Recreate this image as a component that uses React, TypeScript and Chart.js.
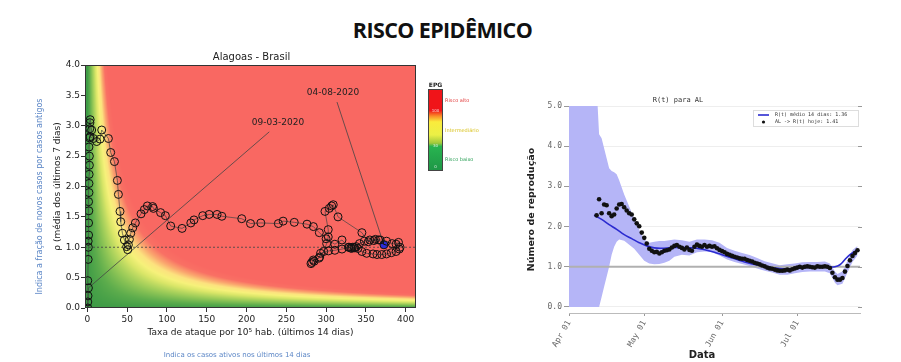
import React, { useEffect, useRef } from "react";
import { Chart, registerables } from "chart.js";
Chart.register(...registerables);

// ---------------- Left chart data (risk diagram) ----------------
const attackRate = [
  1.3, 0.5, 0.5, 0.8, 0.5, 1.0, 1.2, 1.0, 1.5, 1.5, 1.8, 1.5, 2.0, 2.0, 2.2, 2.5, 2.5, 2.0, 2.8, 3.0, 3.5, 3.2,
  5.4, 3.4, 7.5, 11.7, 15.9, 18, 26.4, 29.3, 34, 37.7, 39, 41, 41.9, 44, 46.5, 49.4, 50.7, 51.5, 52.8, 54.5,
  57, 60.3, 67.4, 71.6, 75.4, 82, 83, 92, 98, 104.7, 119, 130, 134, 145, 153, 163, 169, 194, 205, 218, 240,
  246, 260, 276, 284, 291.5, 300, 311, 320, 328, 331, 333, 335, 338, 342, 348, 355, 362, 368, 376, 383, 388,
  391, 393, 392, 388, 382, 376, 370, 364, 359, 351, 345, 340, 336, 332, 329, 320, 311, 303, 293, 291, 284,
  282, 281, 285, 292, 297, 300.7, 302.7, 302.7, 298.6, 304, 307, 309, 315, 345, 353, 360, 366, 372.7,
];
const rho = [
  0.33, 0.0, 0.1, 0.2, 0.45, 0.8, 1.0, 1.1, 1.2, 1.4, 1.6, 1.75, 1.9, 2.05, 2.2, 2.35, 2.5, 2.65, 2.8, 2.95, 3.1, 3.05,
  2.93, 2.82, 2.79, 2.74, 2.78, 2.93, 2.79, 2.56, 2.41, 2.1, 1.87, 1.59, 1.42, 1.23, 1.12, 1.01, 0.96, 1.04, 1.13, 1.23,
  1.32, 1.4, 1.55, 1.62, 1.68, 1.67, 1.64, 1.57, 1.52, 1.35, 1.31, 1.4, 1.45, 1.52, 1.54, 1.54, 1.51, 1.47, 1.39, 1.4, 1.39,
  1.43, 1.41, 1.38, 1.34, 1.24, 1.14, 1.05, 1.12, 1.0, 0.99, 1.0, 1.0, 1.01, 1.06, 1.1, 1.12, 1.13, 1.12, 1.1, 1.06, 1.05,
  1.08, 1.0, 0.97, 0.93, 0.91, 0.89, 0.88, 0.88, 0.89, 0.9, 0.93, 0.98, 0.99, 0.98, 1.0, 0.97, 0.95, 0.94, 0.9, 0.82, 0.79,
  0.75, 0.73, 0.77, 0.84, 0.93, 1.06, 1.17, 1.29, 1.59, 1.64, 1.68, 1.7, 1.5, 1.24, 1.09, 1.11, 1.12, 1.04,
];
const leftXTicks = [0, 50, 100, 150, 200, 250, 300, 350, 400];
const leftYTicks = [0, 0.5, 1, 1.5, 2, 2.5, 3, 3.5, 4];
const firstDateLabel = "09-03-2020";
const lastDateLabel = "04-08-2020";
const epgLevelLabels = ["Risco alto", "Intermediário", "Risco baixo"];
const epgBarValues = ["100", "30", "0"];

// ---------------- Right chart data (R(t)) ----------------
const rDailyStartDay = 11; // days counted from Apr 01
const rDaily = [
  2.28, 2.68, 2.33, 2.55, 2.53, 2.33, 2.26, 2.3, 2.45, 2.55,
  2.56, 2.48, 2.4, 2.33, 2.3, 2.18, 2.08, 2.01, 1.85, 1.72,
  1.58, 1.45, 1.4, 1.36, 1.37, 1.33, 1.36, 1.4, 1.41, 1.43,
  1.48, 1.52, 1.54, 1.5, 1.47, 1.43, 1.48, 1.42, 1.4, 1.5,
  1.55, 1.52, 1.5, 1.54, 1.5, 1.52, 1.5, 1.51, 1.46, 1.42,
  1.39, 1.36, 1.32, 1.3, 1.27, 1.25, 1.23, 1.21, 1.2, 1.2,
  1.17, 1.15, 1.13, 1.1, 1.08, 1.06, 1.03, 1.01, 0.98, 0.96,
  0.95, 0.93, 0.91, 0.9, 0.9, 0.91, 0.93, 0.91, 0.94, 0.96,
  0.98, 1.0, 0.98, 1.0, 1.01, 1.0, 0.99, 0.98, 1.01, 1.0,
  1.0, 1.01, 1.0, 0.97, 0.85, 0.74, 0.68, 0.68, 0.72, 0.88,
  1.02, 1.16, 1.27, 1.34, 1.41,
];
const rMeanDays = [10, 13, 16, 19, 22, 25, 28, 31, 34, 37, 40, 43, 46, 49, 52, 55, 58, 61, 64, 67, 70, 73, 76, 79, 82, 85, 88, 91, 94, 97, 100, 103, 106, 108, 110, 112, 114, 115];
const rMean = [2.28, 2.18, 2.05, 1.93, 1.8, 1.7, 1.6, 1.52, 1.47, 1.46, 1.47, 1.48, 1.48, 1.47, 1.45, 1.41, 1.36, 1.3, 1.24, 1.18, 1.12, 1.07, 1.03, 1.0, 0.97, 0.95, 0.95, 0.96, 0.98, 0.99, 1.0, 1.0, 1.0, 1.05, 1.18, 1.3, 1.38, 1.41];
const bandDays = [0, 11, 12, 13, 14, 15, 16, 17, 18, 19, 20, 22, 24, 26, 28, 30, 32, 34, 36, 38, 40, 42, 45, 48, 51, 54, 57, 60, 63, 66, 69, 72, 75, 78, 81, 84, 87, 90, 93, 96, 99, 102, 104, 106, 107, 109, 111, 113, 115];
const bandUpper = [5.5, 5.5, 4.3, 4.2, 3.95, 3.7, 3.45, 3.38, 3.35, 3.3, 3.15, 2.8, 2.5, 2.2, 1.92, 1.68, 1.6, 1.62, 1.64, 1.64, 1.66, 1.68, 1.66, 1.62, 1.68, 1.68, 1.66, 1.6, 1.47, 1.4, 1.34, 1.29, 1.22, 1.14, 1.09, 1.04, 1.06, 1.08, 1.11, 1.12, 1.12, 1.13, 1.08, 0.88, 0.82, 0.88, 1.15, 1.42, 1.52];
const bandLower = [0, 0, 0, 0.25, 0.5, 0.75, 1.0, 1.3, 1.5, 1.62, 1.68, 1.65, 1.55, 1.45, 1.3, 1.15, 1.08, 1.06, 1.07, 1.1, 1.15, 1.25, 1.3, 1.28, 1.36, 1.38, 1.36, 1.28, 1.18, 1.12, 1.07, 1.02, 0.96, 0.9, 0.86, 0.8, 0.8, 0.84, 0.87, 0.88, 0.88, 0.88, 0.84, 0.6, 0.54, 0.58, 0.86, 1.12, 1.28];
const rightXTickDays = [0, 30, 61, 91];
const rightXTickLabels = ["Apr 01", "May 01", "Jun 01", "Jul 01"];
const rightYTicks = [0, 1, 2, 3, 4, 5];
const meanLabel = "R(t) médio 14 dias: 1.36";
const dailyLabel = "AL -> R(t) hoje: 1.41";

// ---------------- helpers ----------------
const EPG_STOPS: [number, number[]][] = [
  [0, [62, 155, 70]],
  [10, [92, 172, 76]],
  [25, [155, 203, 88]],
  [40, [218, 230, 104]],
  [50, [246, 241, 122]],
  [60, [252, 226, 126]],
  [72, [250, 165, 110]],
  [85, [249, 112, 100]],
  [100, [249, 104, 98]],
];
function epgColor(v: number): number[] {
  if (v <= EPG_STOPS[0][0]) return EPG_STOPS[0][1];
  for (let i = 1; i < EPG_STOPS.length; i++) {
    const [b, cb] = EPG_STOPS[i];
    const [a, ca] = EPG_STOPS[i - 1];
    if (v <= b) {
      const t = (v - a) / (b - a);
      return [ca[0] + (cb[0] - ca[0]) * t, ca[1] + (cb[1] - ca[1]) * t, ca[2] + (cb[2] - ca[2]) * t];
    }
  }
  return EPG_STOPS[EPG_STOPS.length - 1][1];
}

const SANS = "'DejaVu Sans', sans-serif";
const MONO = "'DejaVu Sans Mono', monospace";
const BLUE_TXT = "#5b86c6";

const leftPlugin = {
  id: "leftDecor",
  beforeDatasetsDraw(chart: any) {
    const { ctx, chartArea: ca, scales } = chart;
    const xs = scales.x, ys = scales.y;
    const L = Math.round(ca.left), T = Math.round(ca.top);
    const W = Math.round(ca.right) - L, H = Math.round(ca.bottom) - T;
    const img = ctx.createImageData(W, H);
    for (let j = 0; j < H; j++) {
      const yv = Math.max(0, ys.getValueForPixel(T + j + 0.5));
      for (let i = 0; i < W; i++) {
        const xv = Math.max(0, xs.getValueForPixel(L + i + 0.5));
        const c = epgColor(xv * yv);
        const k = (j * W + i) * 4;
        img.data[k] = c[0];
        img.data[k + 1] = c[1];
        img.data[k + 2] = c[2];
        img.data[k + 3] = 255;
      }
    }
    ctx.putImageData(img, L, T);
    ctx.save();
    const py = ys.getPixelForValue(1);
    ctx.strokeStyle = "rgba(70,70,70,0.85)";
    ctx.lineWidth = 1;
    ctx.setLineDash([2, 2]);
    ctx.beginPath();
    ctx.moveTo(L, py);
    ctx.lineTo(L + W, py);
    ctx.stroke();
    ctx.setLineDash([]);
    const n = attackRate.length;
    const lines = [
      [228.6, 2.9, attackRate[0], rho[0]],
      [313.7, 3.39, attackRate[n - 1], rho[n - 1]],
    ];
    ctx.strokeStyle = "#444";
    ctx.lineWidth = 0.8;
    for (const [x0, y0, x1, y1] of lines) {
      ctx.beginPath();
      ctx.moveTo(xs.getPixelForValue(x0), ys.getPixelForValue(y0));
      ctx.lineTo(xs.getPixelForValue(x1), ys.getPixelForValue(y1));
      ctx.stroke();
    }
    ctx.restore();
  },
  afterDraw(chart: any) {
    const { ctx, chartArea: ca, scales } = chart;
    const xs = scales.x, ys = scales.y;
    ctx.save();
    ctx.strokeStyle = "#333";
    ctx.lineWidth = 1;
    ctx.strokeRect(Math.round(ca.left) + 0.5, Math.round(ca.top) + 0.5, Math.round(ca.right - ca.left) - 1, Math.round(ca.bottom - ca.top) - 1);
    ctx.fillStyle = "#222";
    ctx.font = `9px ${SANS}`;
    ctx.textAlign = "center";
    ctx.textBaseline = "middle";
    ctx.fillText(firstDateLabel, xs.getPixelForValue(239.5), ys.getPixelForValue(3.05));
    ctx.fillText(lastDateLabel, xs.getPixelForValue(308.7), ys.getPixelForValue(3.54));
    ctx.font = `10px ${SANS}`;
    ctx.fillText("Alagoas - Brasil", (ca.left + ca.right) / 2 + 1, ca.top - 8);
    ctx.font = `9px ${SANS}`;
    ctx.fillText("Taxa de ataque por 10\u2075 hab. (últimos 14 dias)", (ca.left + ca.right) / 2, ca.bottom + 25);
    ctx.save();
    ctx.translate(ca.left - 27, (ca.top + ca.bottom) / 2);
    ctx.rotate(-Math.PI / 2);
    ctx.fillText("\u03c1 (média dos últimos 7 dias)", 0, 0);
    ctx.restore();
    ctx.fillStyle = BLUE_TXT;
    ctx.font = `8px ${SANS}`;
    ctx.save();
    ctx.translate(ca.left - 45, (ca.top + ca.bottom) / 2 + 10);
    ctx.rotate(-Math.PI / 2);
    ctx.fillText("Indica a fração de novos casos por casos antigos", 0, 0);
    ctx.restore();
    ctx.font = `7px ${SANS}`;
    ctx.fillText("Indica os casos ativos nos últimos 14 dias", 237, ca.bottom + 47);
    // colour bar
    const bx = ca.right + 12, bw = 15, by = ca.top + 24, bh = 82;
    const g = ctx.createLinearGradient(0, by, 0, by + bh);
    g.addColorStop(0, "rgb(240,20,25)");
    g.addColorStop(0.26, "rgb(240,20,25)");
    g.addColorStop(0.33, "rgb(250,140,40)");
    g.addColorStop(0.4, "rgb(250,235,60)");
    g.addColorStop(0.56, "rgb(235,240,70)");
    g.addColorStop(0.66, "rgb(160,200,60)");
    g.addColorStop(0.7, "rgb(40,180,80)");
    g.addColorStop(1, "rgb(30,150,70)");
    ctx.fillStyle = g;
    ctx.fillRect(bx, by, bw, bh);
    ctx.strokeStyle = "#444";
    ctx.strokeRect(bx + 0.5, by + 0.5, bw - 1, bh - 1);
    ctx.fillStyle = "#222";
    ctx.font = `bold 6px ${SANS}`;
    ctx.fillText("EPG", bx + bw / 2, by - 4);
    ctx.font = `4px ${SANS}`;
    ctx.fillStyle = "rgba(255,255,255,0.8)";
    ctx.fillText(epgBarValues[0], bx + bw / 2, by + 22);
    ctx.fillText(epgBarValues[1], bx + bw / 2, by + 57);
    ctx.fillText(epgBarValues[2], bx + bw / 2, by + 78);
    ctx.textAlign = "left";
    ctx.font = `5px ${SANS}`;
    const labCol = ["#e23a3a", "#d9c21e", "#2fa25a"];
    const labY = [12, 42, 71];
    epgLevelLabels.forEach((t, i) => {
      ctx.fillStyle = labCol[i];
      ctx.fillText(t, bx + bw + 2, by + labY[i]);
    });
    ctx.restore();
  },
};

const rightPlugin = {
  id: "rightDecor",
  afterDraw(chart: any) {
    const { ctx, chartArea: ca, scales } = chart;
    const ys = scales.y;
    ctx.save();
    ctx.textAlign = "center";
    ctx.textBaseline = "middle";
    ctx.fillStyle = "#333";
    ctx.font = `7px ${MONO}`;
    ctx.fillText("R(t) para AL", ca.left + 109, ca.top - 6);
    ctx.strokeStyle = "#999";
    ctx.lineWidth = 1;
    for (const v of rightYTicks) {
      const p = Math.round(ys.getPixelForValue(v)) + 0.5;
      ctx.beginPath();
      ctx.moveTo(ca.right - 2, p);
      ctx.lineTo(ca.right + 2, p);
      ctx.stroke();
    }
    ctx.fillStyle = "#222";
    ctx.font = `bold 10px ${SANS}`;
    ctx.fillText("Data", ca.left + 133, ca.bottom + 42);
    ctx.save();
    ctx.translate(ca.left - 37, (ca.top + ca.bottom) / 2);
    ctx.rotate(-Math.PI / 2);
    ctx.font = `bold 9.5px ${SANS}`;
    ctx.fillText("Número de reprodução", 0, 0);
    ctx.restore();
    // legend
    const lw = 106, lh = 17;
    const lx = ca.right - lw - 1, ly = ca.top + 4;
    ctx.fillStyle = "rgba(255,255,255,0.9)";
    ctx.fillRect(lx, ly, lw, lh);
    ctx.strokeStyle = "#ddd";
    ctx.strokeRect(lx + 0.5, ly + 0.5, lw - 1, lh - 1);
    const ds = chart.data.datasets;
    ctx.strokeStyle = ds[3].borderColor;
    ctx.lineWidth = 1.6;
    ctx.beginPath();
    ctx.moveTo(lx + 5, ly + 5);
    ctx.lineTo(lx + 16, ly + 5);
    ctx.stroke();
    ctx.fillStyle = ds[4].backgroundColor;
    ctx.beginPath();
    ctx.arc(lx + 10.5, ly + 12, 1.6, 0, Math.PI * 2);
    ctx.fill();
    ctx.fillStyle = "#333";
    ctx.textAlign = "left";
    ctx.font = `5px ${MONO}`;
    ctx.fillText(ds[3].label, lx + 22, ly + 5);
    ctx.fillText(ds[4].label, lx + 22, ly + 12);
    ctx.restore();
  },
};

function LeftChart() {
  const ref = useRef<HTMLCanvasElement>(null);
  useEffect(() => {
    const pts = attackRate.map((x, i) => ({ x, y: rho[i] }));
    const n = pts.length;
    const chart = new Chart(ref.current as HTMLCanvasElement, {
      type: "scatter",
      data: {
        datasets: [
          {
            data: pts,
            showLine: true,
            borderColor: "#444",
            borderWidth: 0.7,
            pointRadius: 4,
            pointBorderWidth: 1,
            pointBorderColor: "#111",
            pointBackgroundColor: "rgba(0,0,0,0)",
          },
          {
            data: [pts[n - 1]],
            pointRadius: 4,
            pointBorderWidth: 0,
            pointBackgroundColor: "#2b2bd8",
          },
        ],
      },
      options: {
        animation: false,
        responsive: false,
        maintainAspectRatio: false,
        layout: { padding: { top: 25, right: 64, left: 0, bottom: 0 } },
        plugins: { legend: { display: false }, tooltip: { enabled: false }, title: { display: false } },
        scales: {
          x: {
            type: "linear",
            min: -3,
            max: 413,
            afterBuildTicks: (s: any) => { s.ticks = leftXTicks.map((v) => ({ value: v })); },
            afterFit: (s: any) => { s.height = 54; },
            grid: { drawOnChartArea: false, drawTicks: true, tickLength: 4, color: "#333" },
            border: { display: false },
            ticks: { font: { family: SANS, size: 9 }, color: "#222", padding: 2, maxRotation: 0, autoSkip: false },
          },
          y: {
            type: "linear",
            min: 0,
            max: 4,
            afterBuildTicks: (s: any) => { s.ticks = leftYTicks.map((v) => ({ value: v })); },
            afterFit: (s: any) => { s.width = 85; },
            grid: { drawOnChartArea: false, drawTicks: true, tickLength: 4, color: "#333" },
            border: { display: false },
            ticks: { font: { family: SANS, size: 9 }, color: "#222", padding: 1, autoSkip: false, callback: (v: any) => Number(v).toFixed(1) },
          },
        },
      },
      plugins: [leftPlugin],
    } as any);
    return () => chart.destroy();
  }, []);
  return <canvas ref={ref} width={480} height={322} style={{ position: "absolute", left: 0, top: 40, width: 480, height: 322 }} />;
}

function RightChart() {
  const ref = useRef<HTMLCanvasElement>(null);
  useEffect(() => {
    const daily = rDaily.map((y, i) => ({ x: rDailyStartDay + i, y }));
    const mean = rMeanDays.map((x, i) => ({ x, y: rMean[i] }));
    const lower = bandDays.map((x, i) => ({ x, y: bandLower[i] }));
    const upper = bandDays.map((x, i) => ({ x, y: bandUpper[i] }));
    const chart = new Chart(ref.current as HTMLCanvasElement, {
      type: "scatter",
      data: {
        datasets: [
          { data: lower, showLine: true, borderWidth: 0, borderColor: "rgba(0,0,0,0)", pointRadius: 0, fill: false, order: 5 },
          { data: upper, showLine: true, borderWidth: 0, borderColor: "rgba(0,0,0,0)", pointRadius: 0, fill: "-1", backgroundColor: "#b5b5f7", order: 4 },
          { data: [{ x: 0, y: 1 }, { x: 116, y: 1 }], showLine: true, borderColor: "#b0b0b0", borderWidth: 2, pointRadius: 0, order: 3 },
          { label: meanLabel, data: mean, showLine: true, borderColor: "#2b2bd0", borderWidth: 1.6, pointRadius: 0, tension: 0.4, order: 2 },
          { label: dailyLabel, data: daily, showLine: false, pointRadius: 2.3, pointBorderWidth: 0, backgroundColor: "#111", pointBackgroundColor: "#111", order: 1 },
        ],
      },
      options: {
        animation: false,
        responsive: false,
        maintainAspectRatio: false,
        layout: { padding: { top: 21, right: 41, left: 0, bottom: 0 } },
        plugins: { legend: { display: false }, tooltip: { enabled: false }, title: { display: false } },
        scales: {
          x: {
            type: "linear",
            min: 0,
            max: 116,
            afterBuildTicks: (s: any) => { s.ticks = rightXTickDays.map((v) => ({ value: v })); },
            afterFit: (s: any) => { s.height = 49; },
            grid: { drawOnChartArea: false, drawTicks: true, tickLength: 3, color: "#999" },
            border: { display: true, dash: [2, 2], color: "#bbb", width: 1 },
            ticks: {
              font: { family: MONO, size: 8 },
              color: "#666",
              padding: 3,
              minRotation: 60,
              maxRotation: 60,
              autoSkip: false,
              callback: (v: any) => {
                const i = rightXTickDays.indexOf(Number(v));
                return i >= 0 ? rightXTickLabels[i] : "";
              },
            },
          },
          y: {
            type: "linear",
            min: -0.15,
            max: 5,
            afterBuildTicks: (s: any) => { s.ticks = rightYTicks.map((v) => ({ value: v })); },
            afterFit: (s: any) => { s.width = 89; },
            grid: { drawOnChartArea: true, drawTicks: true, tickLength: 5, color: "#eeeeee", tickColor: "#999" },
            border: { display: false },
            ticks: { font: { family: MONO, size: 8 }, color: "#666", padding: 2, autoSkip: false, callback: (v: any) => Number(v).toFixed(1) },
          },
        },
      },
      plugins: [rightPlugin],
    } as any);
    return () => chart.destroy();
  }, []);
  return <canvas ref={ref} width={421} height={277} style={{ position: "absolute", left: 480, top: 85, width: 421, height: 277 }} />;
}

export default function App() {
  return (
    <div style={{ position: "absolute", left: 0, top: 0, width: 901, height: 362, background: "#fff", overflow: "hidden" }}>
      <div
        style={{
          position: "absolute",
          left: 0,
          top: 15,
          width: 885,
          textAlign: "center",
          fontFamily: "'Open Sans', sans-serif",
          fontWeight: 700,
          fontSize: 21.5,
          lineHeight: "30px",
          color: "#111",
          letterSpacing: -0.6,
        }}
      >
        RISCO EPIDÊMICO
      </div>
      <LeftChart />
      <RightChart />
    </div>
  );
}
